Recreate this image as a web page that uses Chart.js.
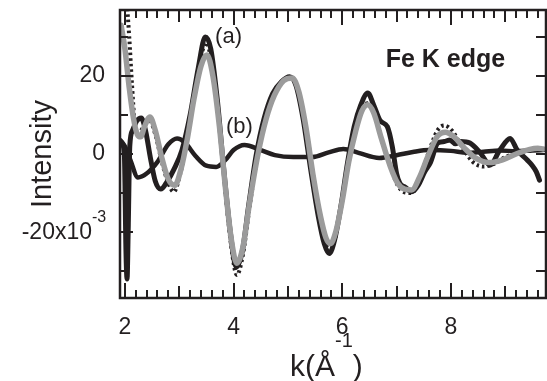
<!DOCTYPE html>
<html>
<head>
<meta charset="utf-8">
<script src="https://cdn.jsdelivr.net/npm/chart.js@4.4.1/dist/chart.umd.min.js"></script>
<style>
  html, body { margin: 0; padding: 0; background: #fff; }
  canvas { display: block; }
</style>
</head>
<body>
<canvas id="exafsChart" width="547" height="381"></canvas>
<script>
// intensity values are in units of 10^-3 (axis reads "x10^-3")
const kExp = [1.94, 1.99, 2.02, 2.04, 2.06, 2.09, 2.14, 2.22, 2.3, 2.38, 2.47, 2.56, 2.66, 2.78, 2.9, 3.05, 3.2, 3.35, 3.48, 3.58,
    3.7, 3.82, 3.94, 4.05, 4.16, 4.28, 4.42, 4.56, 4.72, 4.88, 5.03, 5.15, 5.28, 5.42, 5.56, 5.67, 5.76, 5.86, 5.98, 6.1,
    6.22, 6.34, 6.47, 6.58, 6.7, 6.83, 6.92, 7.0, 7.06, 7.16, 7.28, 7.4, 7.52, 7.62, 7.76, 7.88, 7.98, 8.08, 8.18, 8.35,
    8.54, 8.72, 8.9, 9.09, 9.22, 9.4, 9.5, 9.57, 9.63];
const expA = [3, 0, -25, -32, -20, 2, 6, 8.5, 9.2, 6, -1, -7, -9, -7, -4, 1, 10, 22, 30, 27,
    14, -4, -20, -29, -25, -13, 0, 9, 15.5, 18.5, 19.8, 17.5, 9, -4, -16, -23, -25.5, -22, -13, -2,
    7, 12.5, 15.6, 12.5, 8.5, 7, 2, -5, -7.5, -8.5, -9.7, -8, -4.5, -2.3, 2.8, 3.2, 3.6, 2.6, 3.2, 2.8,
    0.3, -2.8, 1, 4, 1, -1.5, -3, -4.5, -6.7];

const kDot = [2.03, 2.08, 2.13, 2.18, 2.24, 2.32, 2.44, 2.56, 2.68, 2.8, 2.9, 3.02, 3.15, 3.27, 3.4, 3.5, 3.6, 3.74, 3.86, 3.96,
    4.06, 4.17, 4.3, 4.45, 4.6, 4.75, 4.92, 5.08, 5.2, 5.33, 5.47, 5.6, 5.7, 5.78, 5.88, 6.0, 6.12, 6.25, 6.36, 6.47,
    6.58, 6.72, 6.88, 7.02, 7.15, 7.28, 7.42, 7.58, 7.75, 7.88, 8.02, 8.2, 8.4, 8.6, 8.8, 9.0, 9.2, 9.45, 9.7];
const dotA = [40, 30, 18, 8, 5, 6.5, 9, 5, -2, -7.5, -9.7, -5, 4, 15, 25, 28.5, 23, 8, -11, -24,
    -31, -26, -13, 0, 9, 15, 19, 19.5, 16, 7, -6, -17, -22.5, -24, -21, -12, -2, 6, 11.5, 13,
    11, 4, -3, -8, -9.8, -10, -6.5, 0, 6, 7.3, 6, 2, -2, -3.2, -2.5, -0.8, 0.2, 1, 1.5];

const kFit = [1.93, 2.0, 2.08, 2.16, 2.23, 2.29, 2.36, 2.46, 2.56, 2.68, 2.8, 2.92, 3.03, 3.15, 3.27, 3.4, 3.51, 3.62, 3.74, 3.86,
    3.96, 4.06, 4.17, 4.3, 4.45, 4.6, 4.75, 4.92, 5.08, 5.2, 5.33, 5.47, 5.6, 5.7, 5.78, 5.88, 6.0, 6.12, 6.25, 6.36,
    6.47, 6.58, 6.72, 6.88, 7.02, 7.15, 7.28, 7.42, 7.58, 7.75, 7.9, 8.05, 8.25, 8.45, 8.7, 8.95, 9.2, 9.45, 9.6, 9.7];
const fitA = [33, 27, 17, 9, 5, 4.4, 7, 9.5, 6, -1, -6.5, -8, -4, 4, 14, 22.5, 25.4, 20, 7, -10,
    -22, -28, -24, -12, 0, 9, 15, 18.8, 19.5, 16, 7, -6, -16, -21.5, -23, -20, -12, -2, 6, 11,
    12.6, 10.5, 4, -3, -7.5, -9, -9.2, -6, -0.5, 4.5, 5.6, 4.5, 1.5, -1, -2.2, -1.5, 0, 1.2, 1.5, 1.3];

const kB = [1.92, 2.0, 2.1, 2.24, 2.4, 2.6, 2.8, 2.96, 3.1, 3.3, 3.5, 3.68, 3.85, 4.0,
    4.2, 4.5, 4.76, 5.1, 5.45, 5.75, 6.02, 6.3, 6.68, 7.0, 7.3, 7.6, 8.0, 8.3, 8.6, 8.9, 9.2, 9.5, 9.7];
const curveB = [3.5, 2, -1.5, -6, -5, -2, 2.5, 4, 3, -0.5, -3, -3.3, -1.5, 1,
    2.3, 1, -0.3, -0.8, -0.8, 0.4, 1.3, 0.3, -1, -0.3, 0.5, 1, 0.8, 0.3, 0.6, 0.9, 0.7, 0.9, 1];

const xTickLabels = [2, 4, 6, 8];
const yTickLabels = [20, 0];

const INK = '#231f20';
const GRAY = '#9b9b9b';
const FONT = '"Liberation Sans", Arial, Helvetica, sans-serif';

function toPoints(ks, vs) {
    return ks.map((k, i) => ({ x: k, y: vs[i] }));
}

// frame, inward ticks and the texts that need superscripts
const frameAndLabels = {
    id: 'frameAndLabels',
    afterDraw(chart) {
        const ctx = chart.ctx;
        const a = chart.chartArea;
        const xs = chart.scales.x;
        const ys = chart.scales.y;
        ctx.save();
        ctx.strokeStyle = INK;
        ctx.fillStyle = INK;

        // x ticks every 0.2, bottom and top
        ctx.lineWidth = 2;
        for (let i = 10; i <= 48; i++) {
            const px = Math.round(xs.getPixelForValue(i / 5));
            let len = 8;
            if (i % 10 === 0) len = 15;
            else if (i % 5 === 0) len = 12;
            ctx.beginPath();
            ctx.moveTo(px, a.bottom);
            ctx.lineTo(px, a.bottom - len);
            ctx.moveTo(px, a.top);
            ctx.lineTo(px, a.top + len);
            ctx.stroke();
        }
        // y ticks every 10, left and right
        for (let v = -30; v <= 30; v += 10) {
            const py = Math.round(ys.getPixelForValue(v));
            const len = v % 20 === 0 ? 13 : 8;
            ctx.beginPath();
            ctx.moveTo(a.left, py);
            ctx.lineTo(a.left + len, py);
            ctx.moveTo(a.right, py);
            ctx.lineTo(a.right - 10, py);
            ctx.stroke();
        }
        ctx.lineWidth = 2.5;
        ctx.strokeRect(a.left, a.top, a.right - a.left, a.bottom - a.top);

        // "-20x10^-3" tick label
        const y20 = ys.getPixelForValue(-20);
        ctx.textBaseline = 'middle';
        ctx.textAlign = 'right';
        ctx.font = '23px ' + FONT;
        ctx.fillText('-20x10', 92, y20 + 1);
        ctx.textAlign = 'left';
        ctx.font = '16px ' + FONT;
        ctx.fillText('-3', 92, y20 - 14);

        // x axis title k(Å^-1)
        ctx.textBaseline = 'alphabetic';
        let tx = 290;
        ctx.font = '30px ' + FONT;
        ctx.fillText('k(Å', tx, 376);
        tx += ctx.measureText('k(Å').width;
        ctx.font = '20px ' + FONT;
        ctx.fillText('-1', tx, 347);
        tx += ctx.measureText('-1').width;
        ctx.font = '30px ' + FONT;
        ctx.fillText(')', tx, 376);

        // curve labels and panel note
        ctx.textBaseline = 'middle';
        ctx.font = '22px ' + FONT;
        ctx.fillText('(a)', xs.getPixelForValue(3.66), ys.getPixelForValue(30));
        ctx.fillText('(b)', xs.getPixelForValue(3.86), ys.getPixelForValue(6.9));
        ctx.textAlign = 'center';
        ctx.font = 'bold 25px ' + FONT;
        ctx.fillText('Fe K edge', xs.getPixelForValue(7.9), ys.getPixelForValue(24));
        ctx.restore();
    }
};

// keep the plot box fixed: no extra room for overflowing tick labels
function fixPadding(s) {
    s.paddingTop = 0;
    s.paddingBottom = 0;
    s.paddingLeft = 0;
    s.paddingRight = 0;
}

const ctx = document.getElementById('exafsChart').getContext('2d');
new Chart(ctx, {
    type: 'line',
    data: {
        datasets: [
            { label: 'fit (a)', data: toPoints(kFit, fitA), borderColor: GRAY, borderWidth: 5.5, order: 0 },
            { label: 'dotted (a)', data: toPoints(kDot, dotA), borderColor: INK, borderWidth: 4, borderDash: [2.5, 3],
              borderCapStyle: 'butt', order: 1 },
            { label: 'exp (a)', data: toPoints(kExp, expA), borderColor: INK, borderWidth: 5, order: 2 },
            { label: '(b)', data: toPoints(kB, curveB), borderColor: INK, borderWidth: 4.5, order: 3 }
        ]
    },
    options: {
        responsive: false,
        animation: false,
        devicePixelRatio: 1,
        layout: { padding: { left: 0, right: 1, top: 10, bottom: 0 } },
        elements: {
            point: { radius: 0 },
            line: { cubicInterpolationMode: 'monotone', fill: false, borderCapStyle: 'round', borderJoinStyle: 'round' }
        },
        plugins: { legend: { display: false }, tooltip: { enabled: false } },
        scales: {
            x: {
                type: 'linear',
                min: 1.91,
                max: 9.75,
                grid: { display: false, drawTicks: false },
                border: { display: false },
                afterFit: s => { s.height = 83; fixPadding(s); },
                afterBuildTicks: s => { s.ticks = xTickLabels.map(v => ({ value: v })); },
                ticks: {
                    padding: 16,
                    color: INK,
                    font: { family: FONT, size: 23 },
                    maxRotation: 0,
                    callback: v => String(v)
                }
            },
            y: {
                type: 'linear',
                min: -36.9,
                max: 36.9,
                grid: { display: false, drawTicks: false },
                border: { display: false },
                afterFit: s => { s.width = 120; fixPadding(s); },
                afterBuildTicks: s => { s.ticks = yTickLabels.map(v => ({ value: v })); },
                ticks: {
                    padding: 15,
                    color: INK,
                    font: { family: FONT, size: 23 },
                    callback: v => String(v)
                },
                title: {
                    display: true,
                    text: 'Intensity',
                    color: INK,
                    font: { family: FONT, size: 29 },
                    padding: { top: 26, bottom: 0 }
                }
            }
        }
    },
    plugins: [frameAndLabels]
});
</script>
</body>
</html>
